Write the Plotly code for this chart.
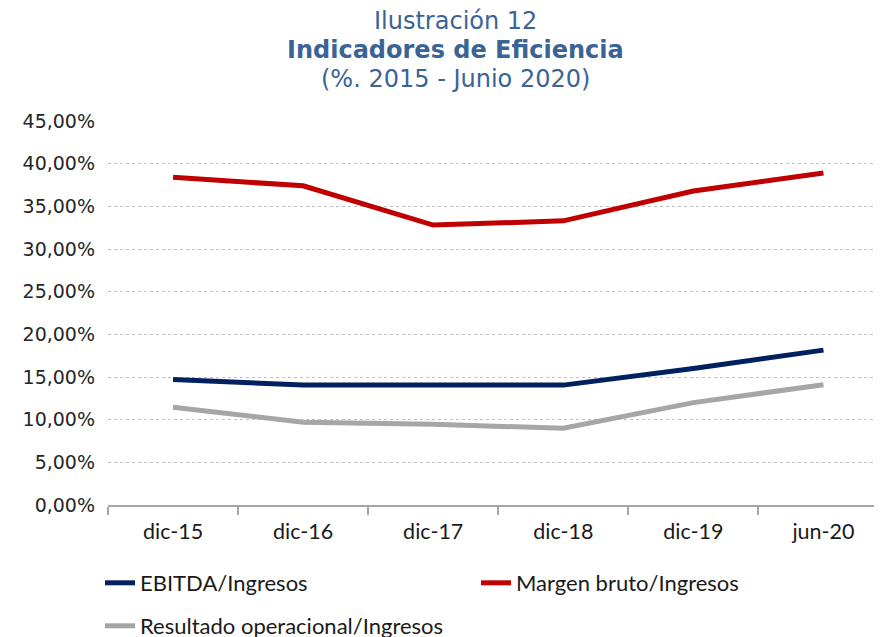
import plotly.graph_objects as go

categories = ["dic-15", "dic-16", "dic-17", "dic-18", "dic-19", "jun-20"]
ebitda = [0.147, 0.1405, 0.1405, 0.1405, 0.160, 0.1815]
margen = [0.384, 0.374, 0.328, 0.333, 0.368, 0.389]
resultado = [0.1145, 0.097, 0.0945, 0.090, 0.120, 0.141]
y_ticks = [0, 0.05, 0.10, 0.15, 0.20, 0.25, 0.30, 0.35, 0.40, 0.45]

title_color = "#3A6496"
label_font = "Lato, Carlito, Liberation Sans Narrow, sans-serif"
verdana = "DejaVu Sans, Verdana, sans-serif"

fig = go.Figure()
fig.add_trace(go.Scatter(x=categories, y=ebitda, name="EBITDA/Ingresos", mode="lines",
                         line=dict(color="#002060", width=5), legend="legend"))
fig.add_trace(go.Scatter(x=categories, y=margen, name="Margen bruto/Ingresos", mode="lines",
                         line=dict(color="#C00000", width=5), legend="legend"))
fig.add_trace(go.Scatter(x=categories, y=resultado, name="Resultado operacional/Ingresos", mode="lines",
                         line=dict(color="#A6A6A6", width=5), legend="legend2"))

# page body has an 8px margin, so the figure is drawn 8px right/down
OFF = 8
W, H = 882 - OFF, 637 - OFF
L, R, T, B = 108 - OFF, 0, 121 - OFF, 637 - 505
plot_w = W - L - R
plot_h = H - T - B

def px_x(px):
    return (px - OFF - L) / plot_w

def px_y(py):
    return (H - B - (py - OFF)) / plot_h

fig.update_layout(
    width=W, height=H,
    margin=dict(l=L, r=R, t=T, b=B, autoexpand=False),
    paper_bgcolor="white", plot_bgcolor="white",
    separators=",.",
    showlegend=True,
    font=dict(family=verdana, color="#262626"),
    xaxis=dict(
        type="category",
        range=[-0.5, 5.45],
        tickson="boundaries",
        ticks="outside", ticklen=8, tickcolor="#A6A6A6", tickwidth=2,
        showline=True, linecolor="#A6A6A6", linewidth=2,
        showgrid=False,
        tickfont=dict(family=label_font, size=21.5, color="#1a1a1a"),
        ticklabelstandoff=6,
        automargin=False,
    ),
    yaxis=dict(
        range=[0, 0.45],
        tickvals=y_ticks,
        tickformat=".2%",
        showgrid=True, gridcolor="#BFBFBF", gridwidth=1.2, griddash="dot",
        zeroline=False, showline=False,
        tickfont=dict(family=verdana, size=19, color="#262626"),
        ticklabelstandoff=12,
        automargin=False,
    ),
    legend=dict(
        orientation="h", x=px_x(100), y=px_y(583), xanchor="left", yanchor="middle",
        entrywidth=331, entrywidthmode="pixels",
        font=dict(family=label_font, size=22, color="#1a1a1a"),
        bgcolor="rgba(0,0,0,0)",
    ),
    legend2=dict(
        orientation="h", x=px_x(100), y=px_y(626), xanchor="left", yanchor="middle",
        font=dict(family=label_font, size=22, color="#1a1a1a"),
        bgcolor="rgba(0,0,0,0)",
    ),
    annotations=[
        dict(text="Ilustración 12", x=px_x(455), y=px_y(21), xref="paper", yref="paper",
             xanchor="center", yanchor="middle", borderpad=0,
             showarrow=False, font=dict(family=verdana, size=24, color=title_color)),
        dict(text="<b>Indicadores de Eficiencia</b>", x=px_x(455), y=px_y(50), xref="paper", yref="paper",
             xanchor="center", yanchor="middle", borderpad=0,
             showarrow=False, font=dict(family=verdana, size=24, color=title_color)),
        dict(text="(%. 2015 - Junio 2020)", x=px_x(455), y=px_y(79), xref="paper", yref="paper",
             xanchor="center", yanchor="middle", borderpad=0,
             showarrow=False, font=dict(family=verdana, size=24, color=title_color)),
    ],
)

fig.write_html("out.html")
